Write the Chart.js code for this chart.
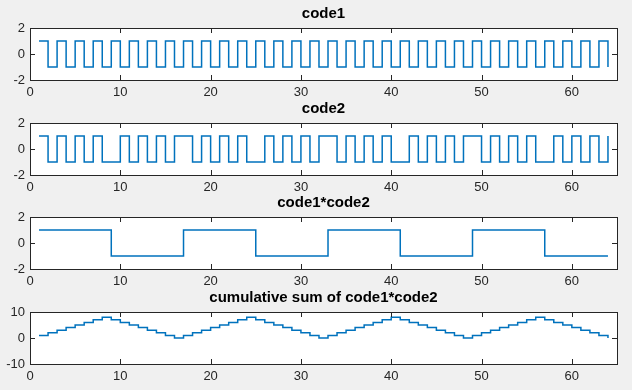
<!DOCTYPE html>
<html>
<head>
<meta charset="utf-8">
<script src="https://cdn.jsdelivr.net/npm/chart.js@4.4.1/dist/chart.umd.min.js"></script>
<style>
  body { margin: 0; background: #f0f0f0; width: 632px; height: 390px; overflow: hidden; }
  .plot { position: absolute; left: 0; width: 632px; height: 115px; }
</style>
</head>
<body>
<div class="plot" style="top:0px"><canvas id="c1" width="632" height="115"></canvas></div>
<div class="plot" style="top:95px"><canvas id="c2" width="632" height="115"></canvas></div>
<div class="plot" style="top:189px"><canvas id="c3" width="632" height="115"></canvas></div>
<div class="plot" style="top:284px"><canvas id="c4" width="632" height="115"></canvas></div>
<script>
// ===== Data =====
const n = [1, 2, 3, 4, 5, 6, 7, 8, 9, 10, 11, 12, 13, 14, 15, 16,
  17, 18, 19, 20, 21, 22, 23, 24, 25, 26, 27, 28, 29, 30, 31, 32,
  33, 34, 35, 36, 37, 38, 39, 40, 41, 42, 43, 44, 45, 46, 47, 48,
  49, 50, 51, 52, 53, 54, 55, 56, 57, 58, 59, 60, 61, 62, 63, 64];

const code1 = [1, -1, 1, -1, 1, -1, 1, -1, 1, -1, 1, -1, 1, -1, 1, -1,
  1, -1, 1, -1, 1, -1, 1, -1, 1, -1, 1, -1, 1, -1, 1, -1,
  1, -1, 1, -1, 1, -1, 1, -1, 1, -1, 1, -1, 1, -1, 1, -1,
  1, -1, 1, -1, 1, -1, 1, -1, 1, -1, 1, -1, 1, -1, 1, -1];

const code2 = [1, -1, 1, -1, 1, -1, 1, -1, -1, 1, -1, 1, -1, 1, -1, 1,
  1, -1, 1, -1, 1, -1, 1, -1, -1, 1, -1, 1, -1, 1, -1, 1,
  1, -1, 1, -1, 1, -1, 1, -1, -1, 1, -1, 1, -1, 1, -1, 1,
  1, -1, 1, -1, 1, -1, 1, -1, -1, 1, -1, 1, -1, 1, -1, 1];

const product = [1, 1, 1, 1, 1, 1, 1, 1, -1, -1, -1, -1, -1, -1, -1, -1,
  1, 1, 1, 1, 1, 1, 1, 1, -1, -1, -1, -1, -1, -1, -1, -1,
  1, 1, 1, 1, 1, 1, 1, 1, -1, -1, -1, -1, -1, -1, -1, -1,
  1, 1, 1, 1, 1, 1, 1, 1, -1, -1, -1, -1, -1, -1, -1, -1];

const cumSum = [1, 2, 3, 4, 5, 6, 7, 8, 7, 6, 5, 4, 3, 2, 1, 0,
  1, 2, 3, 4, 5, 6, 7, 8, 7, 6, 5, 4, 3, 2, 1, 0,
  1, 2, 3, 4, 5, 6, 7, 8, 7, 6, 5, 4, 3, 2, 1, 0,
  1, 2, 3, 4, 5, 6, 7, 8, 7, 6, 5, 4, 3, 2, 1, 0];

const titles = ['code1', 'code2', 'code1*code2', 'cumulative sum of code1*code2'];
const xTicks = [0, 10, 20, 30, 40, 50, 60];
const yTicksSmall = [-2, 0, 2];
const yTicksSum = [-10, 0, 10];

// ===== Style =====
const axisColor = '#262626';
const lineColor = '#0072bd';
const fontFamily = "'Liberation Sans', Arial, Helvetica, sans-serif";

// white axes background, box, inward ticks and title like MATLAB
const matlabAxes = {
  id: 'matlabAxes',
  beforeDraw(chart) {
    const a = chart.chartArea;
    const ctx = chart.ctx;
    ctx.save();
    ctx.fillStyle = '#ffffff';
    ctx.fillRect(a.left, a.top, a.right - a.left, a.bottom - a.top);
    ctx.restore();
  },
  afterDraw(chart, args, opts) {
    const a = chart.chartArea;
    const ctx = chart.ctx;
    const xs = chart.scales.x;
    const ys = chart.scales.y;
    const len = 5;
    ctx.save();
    ctx.strokeStyle = axisColor;
    ctx.lineWidth = 1;
    ctx.beginPath();
    xs.ticks.forEach(t => {
      const px = Math.round(xs.getPixelForValue(t.value)) + 0.5;
      ctx.moveTo(px, a.bottom); ctx.lineTo(px, a.bottom - len);
      ctx.moveTo(px, a.top); ctx.lineTo(px, a.top + len);
    });
    ys.ticks.forEach(t => {
      const py = Math.round(ys.getPixelForValue(t.value)) + 0.5;
      ctx.moveTo(a.left, py); ctx.lineTo(a.left + len, py);
      ctx.moveTo(a.right, py); ctx.lineTo(a.right - len, py);
    });
    ctx.stroke();
    ctx.strokeRect(Math.round(a.left) + 0.5, Math.round(a.top) + 0.5,
      Math.round(a.right - a.left), Math.round(a.bottom - a.top));

    // title centred over the axes box
    ctx.fillStyle = '#000000';
    ctx.font = 'bold 15px ' + fontFamily;
    ctx.textAlign = 'center';
    ctx.textBaseline = 'middle';
    ctx.fillText(opts.text, (a.left + a.right) / 2, a.top - 14);
    ctx.restore();
  },
};

function makePlot(id, title, values, yTicks) {
  new Chart(document.getElementById(id), {
    type: 'line',
    data: {
      datasets: [{
        data: n.map((x, i) => ({ x: x, y: values[i] })),
        borderColor: lineColor,
        borderWidth: 1.5,
        pointRadius: 0,
        stepped: true,
        fill: false,
      }],
    },
    options: {
      responsive: false,
      animation: false,
      devicePixelRatio: 1,
      layout: { padding: { left: 0, right: 15, top: 28, bottom: 0 } },
      plugins: {
        legend: { display: false },
        tooltip: { enabled: false },
        title: { display: false },
        matlabAxes: { text: title },
      },
      scales: {
        x: {
          type: 'linear',
          min: 0,
          max: 65,
          grid: { display: false, drawTicks: false },
          border: { display: false },
          afterBuildTicks: s => { s.ticks = xTicks.map(v => ({ value: v })); },
          ticks: {
            color: axisColor,
            padding: 5,
            maxRotation: 0,
            autoSkip: false,
            font: { family: fontFamily, size: 13 },
          },
          afterFit: s => { s.height = 35; },
        },
        y: {
          min: yTicks[0],
          max: yTicks[yTicks.length - 1],
          grid: { display: false, drawTicks: false },
          border: { display: false },
          afterBuildTicks: s => { s.ticks = yTicks.map(v => ({ value: v })); },
          ticks: {
            color: axisColor,
            padding: 5,
            autoSkip: false,
            font: { family: fontFamily, size: 13 },
          },
          afterFit: s => { s.width = 30; },
        },
      },
    },
    plugins: [matlabAxes],
  });
}

makePlot('c1', titles[0], code1, yTicksSmall);
makePlot('c2', titles[1], code2, yTicksSmall);
makePlot('c3', titles[2], product, yTicksSmall);
makePlot('c4', titles[3], cumSum, yTicksSum);
</script>
</body>
</html>
